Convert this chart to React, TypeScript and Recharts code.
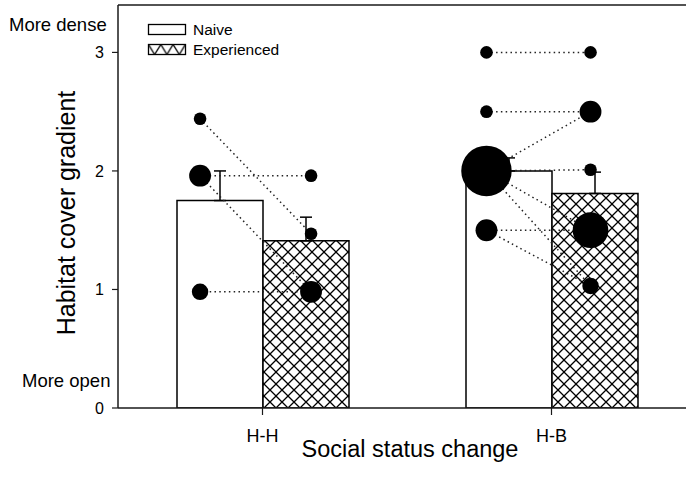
import React from "react";
import {
  ComposedChart, Bar, ErrorBar, Scatter, XAxis, YAxis, ZAxis, ReferenceLine,
} from "recharts";

// group means (bars) and upper error
const groups = ["H-H", "H-B"];
const naiveMean = [1.75, 2.0];
const expMean = [1.41, 1.81];
const naiveErr = [0.25, 0.11];
const expErr = [0.2, 0.18];

// individual scores, with a marker weight
const hhNaive = [2.44, 1.96, 0.98];
const hhNaiveW = [1, 3, 1.7];
const hhExp = [1.96, 1.47, 0.98];
const hhExpW = [1, 1, 3];
const hbNaive = [3.0, 2.5, 2.0, 1.5];
const hbNaiveW = [1, 1, 16, 3];
const hbExp = [3.0, 2.5, 2.01, 1.5, 1.03];
const hbExpW = [1, 3, 1, 8, 1.7];

// naive -> experienced pairs joined by dotted lines
const hhLinks = [[2.44, 1.47], [1.96, 1.96], [1.96, 0.98], [0.98, 0.98]];
const hbLinks = [
  [3.0, 3.0], [2.5, 2.5], [2.0, 2.5], [2.0, 2.01],
  [2.0, 1.5], [2.0, 1.03], [1.5, 1.5], [1.5, 1.03],
];

const yTicks = [0, 1, 2, 3];
const Y_MAX = 3.4;

// where the dots sit inside each category band (band units from centre)
const naiveShift = [-0.216, -0.225];
const expShift = [0.168, 0.135];

const rows = groups.map((g, i) => ({
  group: g,
  naive: naiveMean[i],
  exp: expMean[i],
  naiveErr: [0, naiveErr[i]],
  expErr: [0, expErr[i]],
}));

const px = (gi: number, shift: number[]) => gi + 0.5 + shift[gi];

const pts = (gi: number, vals: number[], w: number[], shift: number[]) =>
  vals.map((y, i) => ({ x: px(gi, shift), y, w: w[i] }));

const naivePts = [...pts(0, hhNaive, hhNaiveW, naiveShift), ...pts(1, hbNaive, hbNaiveW, naiveShift)];
const expPts = [...pts(0, hhExp, hhExpW, expShift), ...pts(1, hbExp, hbExpW, expShift)];

const links = [
  ...hhLinks.map(([a, b]) => [{ x: px(0, naiveShift), y: a }, { x: px(0, expShift), y: b }]),
  ...hbLinks.map(([a, b]) => [{ x: px(1, naiveShift), y: a }, { x: px(1, expShift), y: b }]),
];

const font = "Arial, 'Liberation Sans', Helvetica, sans-serif";
const ink = "#1a1a1a";

export default function App() {
  return (
    <div
      style={{
        position: "absolute", left: 0, top: 0, width: 686, height: 490,
        overflow: "hidden", background: "#fff", fontFamily: font,
      }}
    >
      <ComposedChart
        width={700}
        height={490}
        data={rows}
        barGap={0}
        margin={{ top: 5, right: 4, bottom: 52, left: 88 }}
      >
        <defs>
          <pattern id="xhatch" width="12" height="12" patternUnits="userSpaceOnUse">
            <rect width="12" height="12" fill="#fff" />
            <path d="M0,0 L12,12 M12,0 L0,12" stroke="#000" strokeWidth="1.3" />
          </pattern>
        </defs>
        <XAxis
          xAxisId="cat"
          dataKey="group"
          type="category"
          height={30}
          tickSize={7}
          tickMargin={14}
          tick={{ fill: "#000", fontSize: 18 }}
          axisLine={{ stroke: ink, strokeWidth: 1.5 }}
          tickLine={{ stroke: ink, strokeWidth: 1.2 }}
        />
        <XAxis xAxisId="pos" dataKey="x" type="number" domain={[0, 2]} hide allowDataOverflow />
        <YAxis
          domain={[0, Y_MAX]}
          ticks={yTicks}
          width={30}
          tickSize={6}
          tickMargin={8}
          allowDataOverflow
          tick={{ fill: "#000", fontSize: 16 }}
          axisLine={{ stroke: ink, strokeWidth: 1.5 }}
          tickLine={{ stroke: ink, strokeWidth: 1.2 }}
        />
        <YAxis yAxisId="sy" dataKey="y" type="number" domain={[0, Y_MAX]} hide allowDataOverflow />
        <ZAxis range={[1, 1]} />
        <ZAxis zAxisId="size" dataKey="w" domain={[0, 16]} range={[0, 2000]} />
        <ReferenceLine y={Y_MAX} stroke={ink} strokeWidth={1.5} xAxisId="cat" />

        <Bar xAxisId="cat" dataKey="naive" fill="#fff" stroke="#000" strokeWidth={1.5} barSize={86} isAnimationActive={false}>
          <ErrorBar dataKey="naiveErr" width={6} stroke="#000" strokeWidth={1.5} direction="y" />
        </Bar>
        <Bar xAxisId="cat" dataKey="exp" fill="url(#xhatch)" stroke="#000" strokeWidth={1.5} barSize={86} isAnimationActive={false}>
          <ErrorBar dataKey="expErr" width={6} stroke="#000" strokeWidth={1.5} direction="y" />
        </Bar>

        {links.map((seg, i) => (
          <Scatter
            key={"l" + i}
            data={seg}
            xAxisId="pos"
            yAxisId="sy"
            fill="#222"
            line={{ stroke: "#222", strokeWidth: 1.5, strokeDasharray: "1.5 3.3" }}
            shape={() => <g />}
            isAnimationActive={false}
          />
        ))}
        <Scatter data={naivePts} xAxisId="pos" yAxisId="sy" zAxisId="size" fill="#000" shape="circle" isAnimationActive={false} />
        <Scatter data={expPts} xAxisId="pos" yAxisId="sy" zAxisId="size" fill="#000" shape="circle" isAnimationActive={false} />
      </ComposedChart>

      <svg width={686} height={490} style={{ position: "absolute", left: 0, top: 0, pointerEvents: "none" }}>
        <defs>
          <pattern id="vhatch" width="12.3" height="10" patternUnits="userSpaceOnUse" x="148.5" y="44.5">
            <path d="M0,0 L6.15,10 L12.3,0" stroke="#000" strokeWidth="1.3" fill="none" />
          </pattern>
        </defs>
        <text x={9} y={31} fontSize={18.5} fontFamily={font}>More dense</text>
        <text x={22} y={387} fontSize={18.5} fontFamily={font}>More open</text>
        <text transform="translate(75,213) rotate(-90)" textAnchor="middle" fontSize={25} fontFamily={font}>
          Habitat cover gradient
        </text>
        <text x={410} y={457} textAnchor="middle" fontSize={23.5} fontFamily={font}>Social status change</text>

        <rect x={148.5} y={24.5} width={37} height={10} fill="#fff" stroke="#000" strokeWidth={1.3} />
        <text x={193} y={35} fontSize={15.5} fontFamily={font}>Naive</text>
        <rect x={148.5} y={44.5} width={37} height={10} fill="url(#vhatch)" stroke="#000" strokeWidth={1.3} />
        <text x={193} y={55} fontSize={15.5} fontFamily={font}>Experienced</text>
      </svg>
    </div>
  );
}
